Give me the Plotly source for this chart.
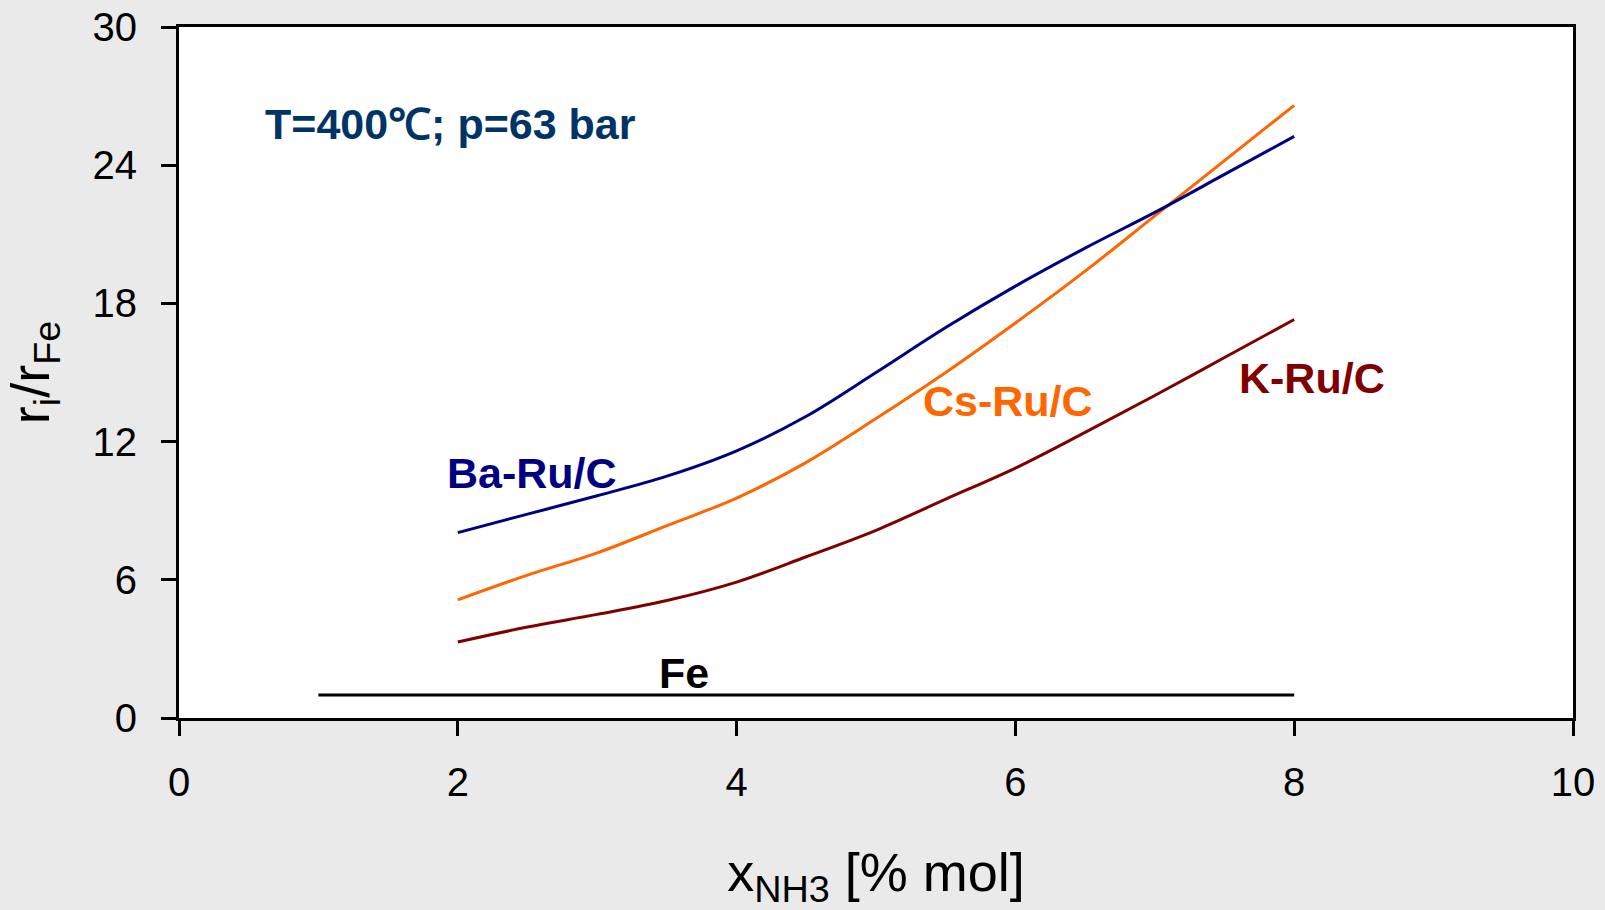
import plotly.graph_objects as go

x_vals = [2, 2.5, 3, 3.5, 4, 4.5, 5, 5.5, 6, 6.5, 7, 7.5, 8]
ba_ru = [8.05, 8.85, 9.65, 10.5, 11.6, 13.1, 15.0, 16.95, 18.75, 20.4, 21.95, 23.6, 25.25]
cs_ru = [5.13, 6.2, 7.17, 8.35, 9.55, 11.1, 13.0, 15.0, 17.15, 19.4, 21.8, 24.2, 26.6]
k_ru = [3.3, 3.95, 4.5, 5.1, 5.9, 7.0, 8.15, 9.5, 10.85, 12.4, 14.0, 15.65, 17.3]
fe_x = [1, 8]
fe_y = [1, 1]

x_ticks = [0, 2, 4, 6, 8, 10]
y_ticks = [0, 6, 12, 18, 24, 30]

FONT = "Liberation Sans, Arial, sans-serif"

fig = go.Figure()
fig.add_trace(go.Scatter(x=fe_x, y=fe_y, mode="lines", line=dict(color="#000000", width=3), showlegend=False))
fig.add_trace(go.Scatter(x=x_vals, y=k_ru, mode="lines", line=dict(color="#800000", width=3, shape="spline"), showlegend=False))
fig.add_trace(go.Scatter(x=x_vals, y=cs_ru, mode="lines", line=dict(color="#FF6600", width=3, shape="spline"), showlegend=False))
fig.add_trace(go.Scatter(x=x_vals, y=ba_ru, mode="lines", line=dict(color="#000080", width=3, shape="spline"), showlegend=False))

labels = [
    ("T=400℃; p=63 bar", 1.95, 25.8, "#003366"),
    ("Ba-Ru/C", 2.53, 10.65, "#000080"),
    ("Cs-Ru/C", 5.95, 13.77, "#FF6600"),
    ("K-Ru/C", 8.13, 14.76, "#800000"),
    ("Fe", 3.62, 1.95, "#000000"),
]
for text, lx, ly, col in labels:
    fig.add_annotation(x=lx, y=ly, text="<b>%s</b>" % text, showarrow=False,
                       font=dict(family=FONT, size=43, color=col), xanchor="center", yanchor="middle")

axis_common = dict(showgrid=False, zeroline=False, showline=True, linecolor="#000000", linewidth=3,
                   mirror=True, ticks="outside", ticklen=15, tickwidth=3, tickcolor="#000000",
                   automargin=False,
                   tickfont=dict(family=FONT, size=40, color="#000000"))

fig.update_xaxes(range=[0, 10], tickvals=x_ticks, ticktext=[str(v) for v in x_ticks],
                 ticklabelstandoff=12,
                 title=dict(text="x<sub>NH3</sub> [% mol]", font=dict(family=FONT, size=54, color="#000000"), standoff=66),
                 **axis_common)
fig.update_yaxes(range=[0, 30], tickvals=y_ticks, ticktext=[str(v) for v in y_ticks],
                 ticklabelstandoff=16,
                 title=dict(text="r<sub>i</sub>/r<sub>Fe</sub>", font=dict(family=FONT, size=54, color="#000000"), standoff=30),
                 **axis_common)

fig.update_layout(width=1605, height=910, paper_bgcolor="#EAEAEA", plot_bgcolor="#FFFFFF",
                  margin=dict(l=179, r=32, t=27, b=192), showlegend=False)

fig.write_html("out.html", config={"displayModeBar": False},
               post_script="document.body.style.margin='0';document.body.style.background='#EAEAEA';")
